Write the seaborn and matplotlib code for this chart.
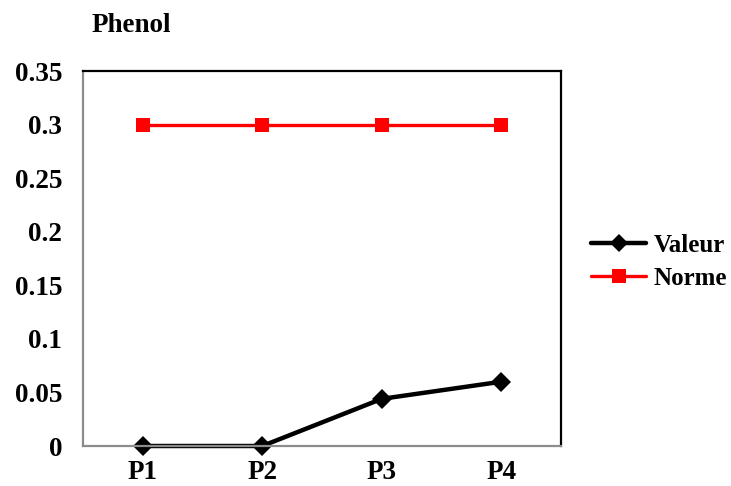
import matplotlib
matplotlib.use("Agg")
import matplotlib.pyplot as plt
import seaborn as sns
import pandas as pd
from matplotlib.lines import Line2D

# Sampling points and measured phenol concentrations
points = ["P1", "P2", "P3", "P4"]
valeur = [0.0, 0.0, 0.044, 0.06]
norme = [0.3, 0.3, 0.3, 0.3]
y_ticks = [0, 0.05, 0.1, 0.15, 0.2, 0.25, 0.3, 0.35]
y_tick_labels = ["0", "0.05", "0.1", "0.15", "0.2", "0.25", "0.3", "0.35"]

df = pd.DataFrame({
    "point": points * 2,
    "value": valeur + norme,
    "serie": ["Valeur"] * len(points) + ["Norme"] * len(points),
})

sns.set_theme(style="white")
plt.rcParams["font.family"] = ["Liberation Serif", "DejaVu Serif"]
plt.rcParams["font.weight"] = "bold"
plt.rcParams["text.color"] = "black"
plt.rcParams["xtick.color"] = "black"
plt.rcParams["ytick.color"] = "black"

FS = 19.5
LEG_FS = 18
BLACK_LW, RED_LW = 3.2, 2.4

fig = plt.figure(figsize=(7.31, 4.86), dpi=100)
ax = fig.add_axes([83 / 731, 40 / 486, 478 / 731, 375 / 486])

palette = {"Valeur": "black", "Norme": "#ff0000"}
markers = {"Valeur": "D", "Norme": "s"}
sns.lineplot(data=df, x="point", y="value", hue="serie", style="serie",
             palette=palette, markers=markers, dashes=False, ax=ax,
             linewidth=BLACK_LW, markersize=10, markeredgewidth=0, sort=False,
             legend=False)
for line in ax.lines:
    line.set_clip_on(False)
    if tuple(matplotlib.colors.to_rgb(line.get_color())) == (1.0, 0.0, 0.0):
        line.set_linewidth(RED_LW)
        line.set_markersize(10.5)

ax.set_xlim(-0.5, 3.5)
ax.set_ylim(0, 0.35)
ax.set_yticks(y_ticks)
ax.set_yticklabels(y_tick_labels)
ax.set_xlabel("")
ax.set_ylabel("")
ax.tick_params(axis="both", length=0, labelsize=FS, labelcolor="black")
ax.tick_params(axis="y", pad=15)
ax.tick_params(axis="x", pad=10)
for lab in ax.get_xticklabels() + ax.get_yticklabels():
    lab.set_fontweight("bold")

for side in ("left", "bottom"):
    ax.spines[side].set_color("#8c8c8c")
    ax.spines[side].set_linewidth(1.6)
for side in ("top", "right"):
    ax.spines[side].set_color("black")
    ax.spines[side].set_linewidth(1.6)

fig.text(131 / 731, 1 - 25 / 486, "Phenol", ha="center", va="center",
         fontsize=FS, fontweight="bold", color="black")

handles = [
    Line2D([], [], color="black", marker="D", linewidth=BLACK_LW, markersize=9,
           markeredgewidth=0),
    Line2D([], [], color="#ff0000", marker="s", linewidth=RED_LW, markersize=10.5,
           markeredgewidth=0),
]
fig.legend(handles, ["Valeur", "Norme"], loc="center left",
           bbox_to_anchor=(591 / 731, 1 - 262 / 486), frameon=False,
           borderpad=0, borderaxespad=0, handlelength=2.2, handletextpad=0.3,
           labelspacing=0.4, prop={"size": LEG_FS, "weight": "bold"})

fig.savefig("out.png", dpi=100)
